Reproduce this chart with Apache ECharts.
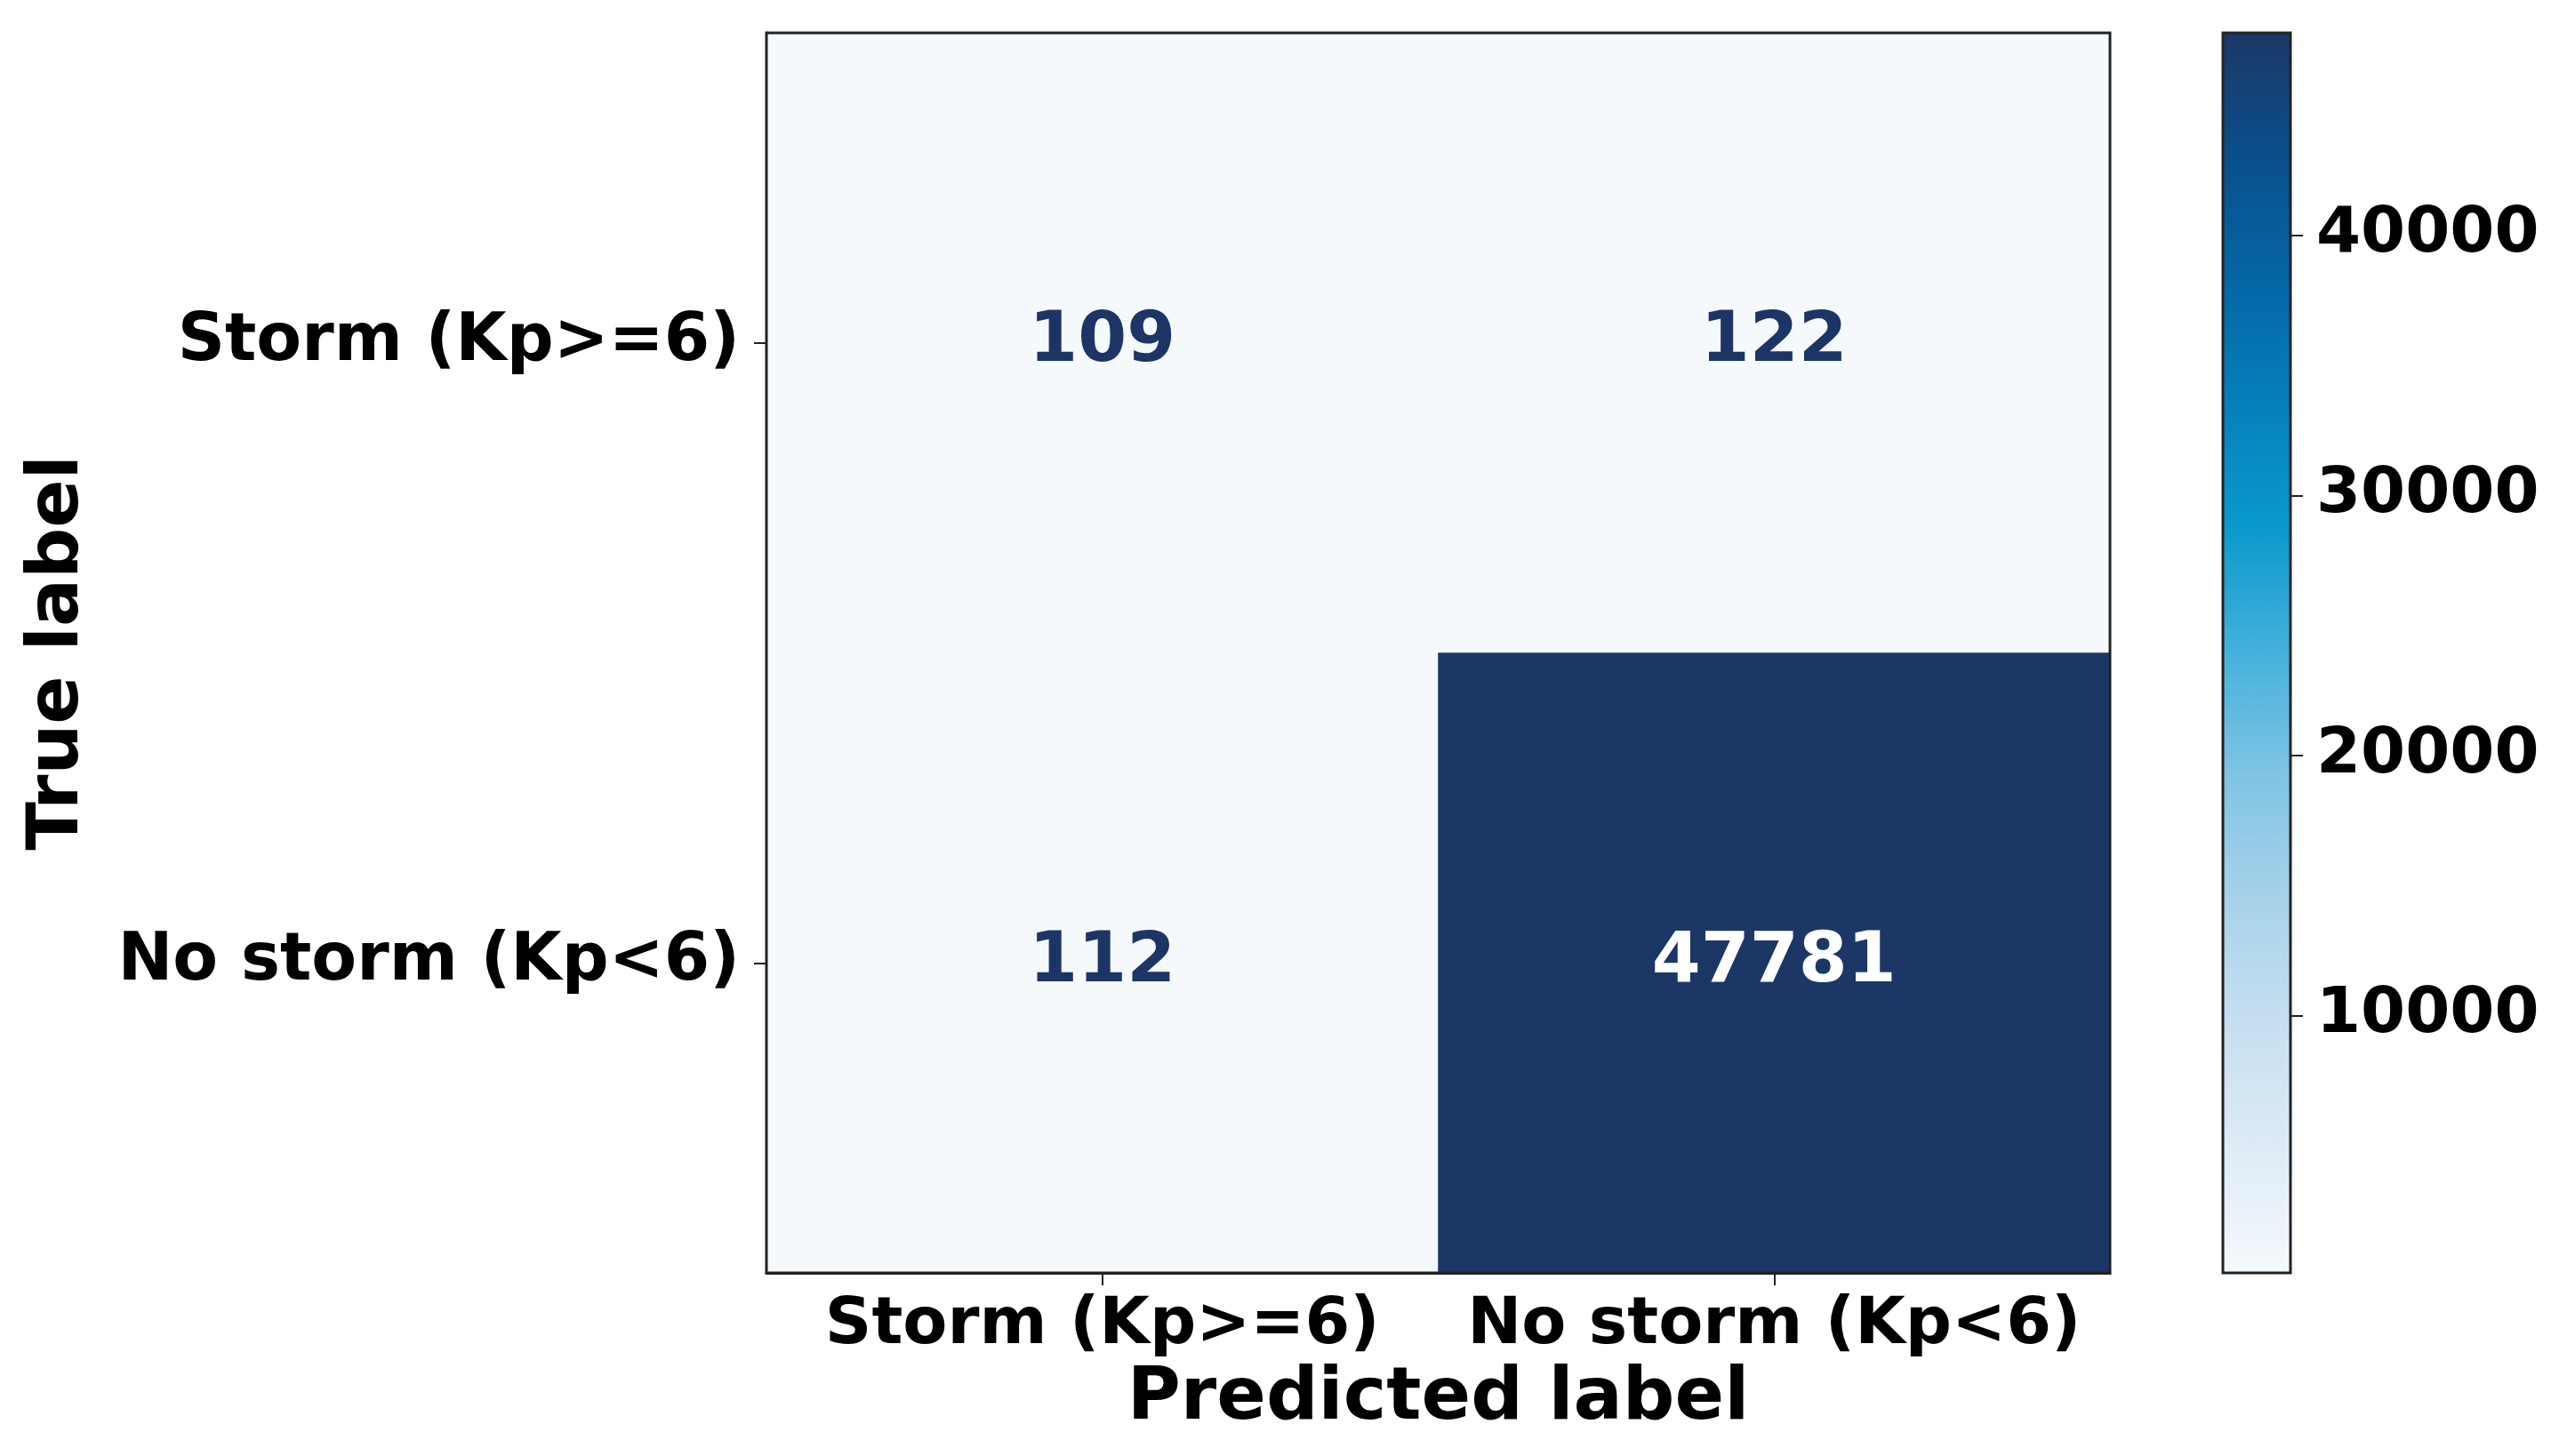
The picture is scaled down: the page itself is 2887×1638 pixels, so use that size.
<!DOCTYPE html>
<html>
<head>
<meta charset="utf-8">
<script src="https://cdn.jsdelivr.net/npm/echarts@6.0.0/dist/echarts.min.js"></script>
<style>
    html, body { margin: 0; padding: 0; background: #fff; }
    #chart { width: 2887px; height: 1638px; }
</style>
</head>
<body>
<div id="chart"></div>
<script>
// confusion matrix data
const predLabels = ['Storm (Kp>=6)', 'No storm (Kp<6)'];
const trueLabels = ['Storm (Kp>=6)', 'No storm (Kp<6)'];
const rowStorm = [109, 122];
const rowNoStorm = [112, 47781];
const cbarTicks = [10000, 20000, 30000, 40000];

// Blues-like colormap as it appears in the picture
const cmap = ['#f5f9fc', '#deebf6', '#c6dff0', '#a8d2ea', '#80c4e3', '#45b1dc',
              '#0a9acd', '#0580ba', '#0566a6', '#0a4f8c', '#1c3766'];

const font = 'DejaVu Sans';
const rows = [rowStorm, rowNoStorm];
const all = rows.flat();
const vmin = Math.min(...all);
const vmax = Math.max(...all);

let cells = [];
rows.forEach((row, i) => {
    row.forEach((v, j) => {
        cells.push({
            value: [j, i, v],
            label: { color: v > (vmin + vmax) / 2 ? '#ffffff' : '#1c3566' }
        });
    });
});

const chart = echarts.init(document.getElementById('chart'));
const option = {
    backgroundColor: '#ffffff',
    animation: false,
    textStyle: { fontFamily: font, fontWeight: 'bold', color: '#000' },
    grid: [
        { left: 862, top: 37, width: 1511, height: 1395, show: true, z: 10,
          borderColor: '#222', borderWidth: 3, backgroundColor: 'transparent' },
        { left: 2500, top: 37, width: 76, height: 1395, show: true, z: 10,
          borderColor: '#222', borderWidth: 3, backgroundColor: 'transparent' }
    ],
    xAxis: [
        {
            type: 'category', gridIndex: 0, data: predLabels, position: 'bottom',
            name: 'Predicted label', nameLocation: 'middle', nameGap: 101,
            nameTextStyle: { fontSize: 82, fontWeight: 'bold', fontFamily: font, color: '#000' },
            axisLine: { show: true, lineStyle: { color: '#222', width: 3 } },
            axisTick: { show: true, alignWithLabel: true, length: 14, lineStyle: { color: '#222', width: 2 } },
            axisLabel: { interval: 0, fontSize: 73, fontWeight: 'bold', fontFamily: font, color: '#000', margin: 24 },
            splitLine: { show: false }
        },
        {
            type: 'category', gridIndex: 1, data: [''],
            axisLine: { show: false }, axisTick: { show: false }, axisLabel: { show: false }
        }
    ],
    yAxis: [
        {
            type: 'category', gridIndex: 0, data: trueLabels, inverse: true,
            name: 'True label', nameLocation: 'middle', nameGap: 756, nameRotate: 90,
            nameTextStyle: { fontSize: 80, fontWeight: 'bold', fontFamily: font, color: '#000' },
            axisLine: { show: true, lineStyle: { color: '#222', width: 3 } },
            axisTick: { show: true, alignWithLabel: true, length: 14, lineStyle: { color: '#222', width: 2 } },
            axisLabel: { interval: 0, fontSize: 74, fontWeight: 'bold', fontFamily: font, color: '#000', margin: 30 },
            splitLine: { show: false }
        },
        {
            type: 'value', gridIndex: 1, min: vmin, max: vmax, position: 'right',
            axisLine: { show: false },
            axisTick: { show: true, length: 14, customValues: cbarTicks, lineStyle: { color: '#222', width: 2 } },
            axisLabel: { fontSize: 72, fontWeight: 'bold', fontFamily: font, color: '#000', margin: 29,
                         customValues: cbarTicks, formatter: v => String(v) },
            splitLine: { show: false }
        }
    ],
    visualMap: {
        show: false, type: 'continuous', min: vmin, max: vmax, seriesIndex: 0, dimension: 2,
        inRange: { color: cmap }
    },
    series: [
        {
            type: 'heatmap', xAxisIndex: 0, yAxisIndex: 0, data: cells,
            label: { show: true, fontSize: 79, fontWeight: 'bold', fontFamily: font },
            itemStyle: { borderWidth: 0 }
        },
        {
            type: 'bar', xAxisIndex: 1, yAxisIndex: 1, data: [vmax], barWidth: '100%',
            itemStyle: {
                color: new echarts.graphic.LinearGradient(0, 1, 0, 0,
                    cmap.map((c, i) => ({ offset: i / (cmap.length - 1), color: c })))
            }
        }
    ]
};
chart.setOption(option);
</script>
</body>
</html>
